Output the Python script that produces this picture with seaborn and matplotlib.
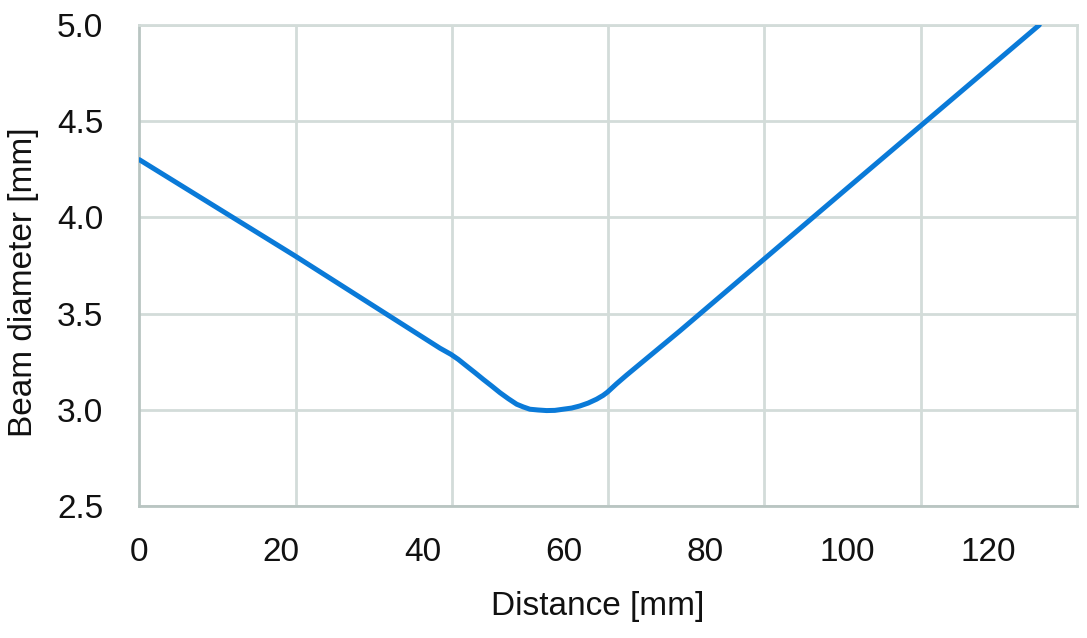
import numpy as np
import pandas as pd
import matplotlib
matplotlib.use("Agg")
import matplotlib.pyplot as plt
import seaborn as sns

# beam diameter measured along the distance
distance = [0.0, 22.0, 42.5, 44.05, 45.08, 46.27, 47.44, 48.61, 49.79, 50.97,
            52.14, 53.33, 54.26, 55.2, 56.37, 57.56, 58.73, 59.9, 61.09, 62.27,
            63.44, 64.62, 65.55, 66.17, 67.44, 68.86, 76.4, 100.0, 127.2]
diameter = [4.30, 3.80, 3.32, 3.288, 3.262, 3.227, 3.193, 3.158, 3.124, 3.089,
            3.058, 3.029, 3.015, 3.003, 2.999, 2.996, 2.997, 3.003, 3.009, 3.020,
            3.035, 3.055, 3.075, 3.092, 3.135, 3.180, 3.41, 4.15, 5.0]

x_ticks = [0, 20, 40, 60, 80, 100, 120]
y_ticks = [2.5, 3.0, 3.5, 4.0, 4.5, 5.0]

df = pd.DataFrame({"Distance": distance, "Diameter": diameter})

sns.set_style("white")
plt.rcParams["font.family"] = ["Liberation Sans", "DejaVu Sans"]

grid_col = "#d3dcd9"
axis_col = "#b9c5c2"

fig = plt.figure(figsize=(10.87, 6.38), dpi=100)
ax = fig.add_axes([0.1282, 0.2069, 0.8624, 0.7539])

sns.lineplot(data=df, x="Distance", y="Diameter", ax=ax, color="#0a7ad8",
             linewidth=3.6, sort=False, zorder=3)

x_max = 132.5
ax.set_xlim(0, x_max)
ax.set_ylim(2.5, 5.0)
ax.set_xticks(x_ticks)
ax.set_xticklabels([str(t) for t in x_ticks])
# vertical gridlines of the original chart do not sit on the labelled values
ax.set_xticks(np.linspace(0, x_max, 7)[1:-1], minor=True)
ax.set_yticks(y_ticks)
ax.set_yticklabels([f"{t:.1f}" for t in y_ticks])

ax.grid(False)
ax.grid(which="minor", axis="x", color=grid_col, linewidth=2)
ax.grid(which="major", axis="y", color=grid_col, linewidth=2)
ax.set_axisbelow(True)

ax.tick_params(axis="both", which="both", length=0, labelsize=24, colors="#111111")
ax.tick_params(axis="x", pad=22)
ax.tick_params(axis="y", pad=26)

for side in ["top", "right"]:
    ax.spines[side].set_color(grid_col)
    ax.spines[side].set_linewidth(2)
for side in ["left", "bottom"]:
    ax.spines[side].set_color(axis_col)
    ax.spines[side].set_linewidth(2)

ax.set_xlabel("Distance [mm]", fontsize=24, labelpad=17, color="#111111")
ax.set_ylabel("Beam diameter [mm]", fontsize=24, labelpad=13, color="#111111")
ax.xaxis.label.set_x(0.4893)
ax.yaxis.label.set_y(0.4657)

fig.savefig("out.png", dpi=100)
